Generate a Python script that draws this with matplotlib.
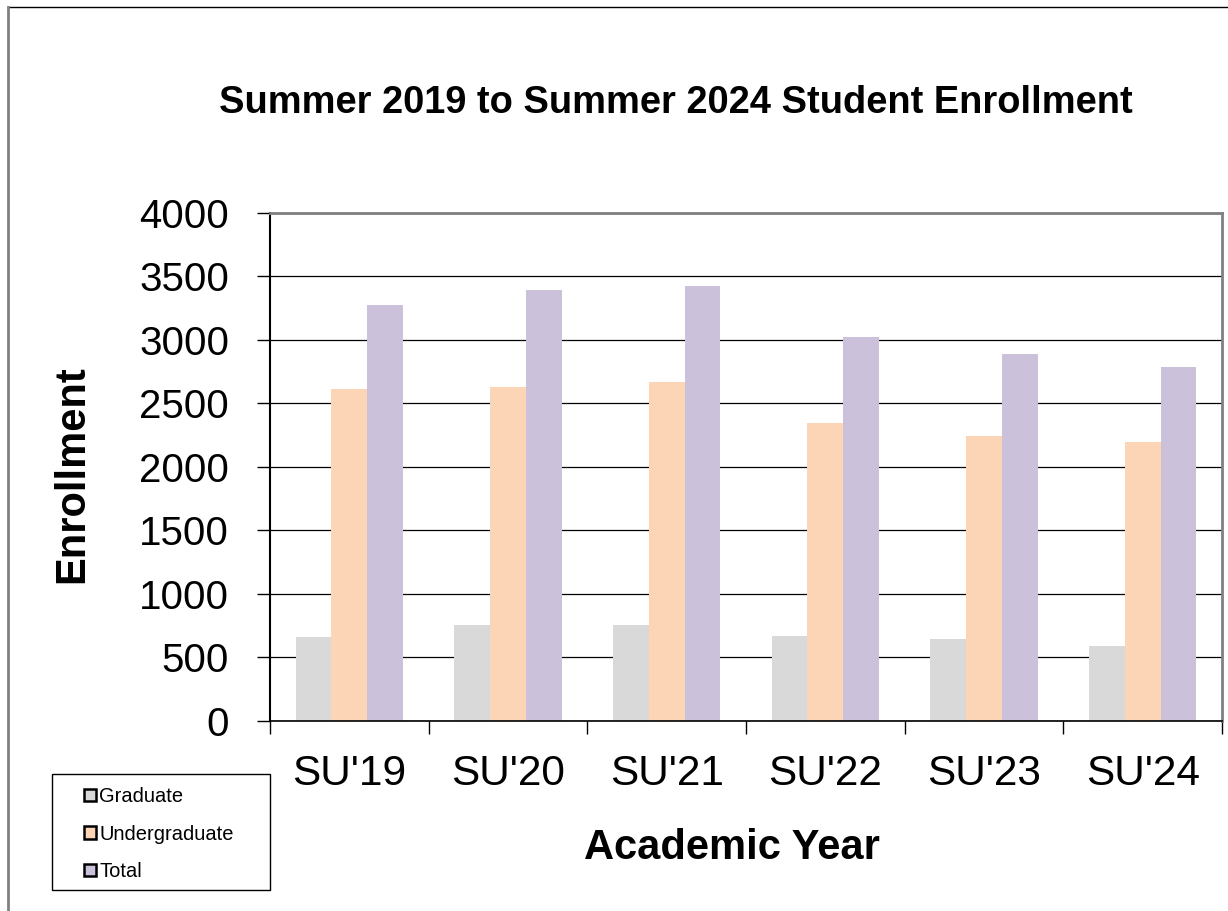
import numpy as np
import matplotlib
matplotlib.use("Agg")
import matplotlib.pyplot as plt
from matplotlib.patches import Patch, Rectangle
from matplotlib.lines import Line2D

plt.rcParams['font.family'] = ['Liberation Sans', 'DejaVu Sans']

# Enrollment data
years = ["SU'19", "SU'20", "SU'21", "SU'22", "SU'23", "SU'24"]
graduate = [662, 756, 756, 670, 648, 592]
undergraduate = [2612, 2628, 2668, 2345, 2245, 2198]
total = [3272, 3388, 3422, 3018, 2888, 2787]

series_names = ['Graduate', 'Undergraduate', 'Total']
colors = ['#d9d9d9', '#fbd5b5', '#ccc1da']

W, H = 1228, 911
fig = plt.figure(figsize=(W / 100, H / 100), dpi=100)
ax = fig.add_axes([270 / W, 1 - 721 / H, (1222 - 270) / W, (721 - 212.7) / H])

x = np.arange(len(years))
bw = 0.225
for i, (vals, c) in enumerate(zip([graduate, undergraduate, total], colors)):
    ax.bar(x + (i - 1) * bw, vals, width=bw, color=c, zorder=2)

ax.set_xlim(-0.5, len(years) - 0.5)
ax.set_ylim(0, 4000)
ax.set_yticks(np.arange(0, 4001, 500))
ax.yaxis.grid(True, color='black', linewidth=0.9)
ax.set_axisbelow(True)

ax.tick_params(axis='y', direction='out', length=9.4, width=1, labelsize=29, pad=20)
ax.set_xticks(x)
ax.set_xticklabels(years)
ax.tick_params(axis='x', which='major', length=0, labelsize=30.5, pad=23.5)
ax.set_xticks(np.arange(-0.5, len(years)), minor=True)
ax.tick_params(axis='x', which='minor', direction='out', length=9, width=1)

ax.spines['left'].set_color('black')
ax.spines['left'].set_linewidth(1.5)
ax.spines['bottom'].set_color('black')
ax.spines['bottom'].set_linewidth(1.2)
for s in ['top', 'right']:
    ax.spines[s].set_color('#808080')
    ax.spines[s].set_linewidth(2)

fig.text(676 / W, 1 - 103 / H, 'Summer 2019 to Summer 2024 Student Enrollment',
         ha='center', va='center', fontsize=27.4, fontweight='bold')
fig.text(732 / W, 1 - 848 / H, 'Academic Year', ha='center', va='center',
         fontsize=30, fontweight='bold')
fig.text(72 / W, 1 - 474 / H, 'Enrollment', ha='center', va='center',
         rotation=90, fontsize=30, fontweight='bold')

# legend box
fig.patches.append(Rectangle((52 / W, 1 - 890 / H), 218 / W, 116 / H,
                             transform=fig.transFigure, fill=False,
                             edgecolor='black', linewidth=1))
handles = [Patch(facecolor=c, edgecolor='black', linewidth=1.8) for c in colors]
fig.legend(handles, series_names, loc='upper left',
           bbox_to_anchor=(84 / W, 1 - 787 / H), frameon=False, fontsize=14.5,
           handlelength=0.6, handleheight=0.6, handletextpad=0.15,
           labelspacing=0.92, borderpad=0, borderaxespad=0)

# outer border
fig.lines.append(Line2D([8 / W, 1], [1 - 7 / H, 1 - 7 / H], transform=fig.transFigure,
                        color='black', linewidth=1))
fig.lines.append(Line2D([8 / W, 8 / W], [0, 1 - 7 / H], transform=fig.transFigure,
                        color='#808080', linewidth=2))

fig.savefig('out.png', dpi=100)
